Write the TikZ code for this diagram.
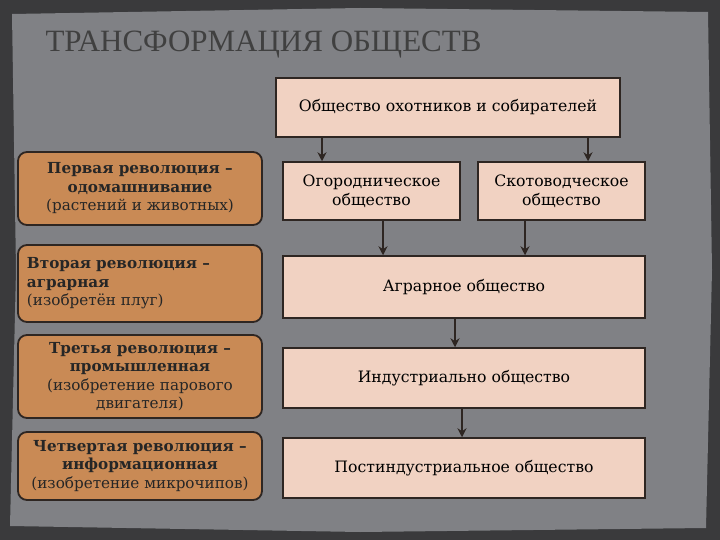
\documentclass[tikz,border=0pt]{standalone}
\usepackage{fontspec}
\usetikzlibrary{arrows.meta}
\setmainfont{DejaVu Serif}
\newfontfamily\titlefont{Liberation Serif}
\definecolor{bgdark}{HTML}{3A3A3C}
\definecolor{panel}{HTML}{808185}
\definecolor{pinkbox}{HTML}{F1D2C2}
\definecolor{brownbox}{HTML}{C98A55}
\definecolor{edge}{HTML}{2E2622}
\begin{document}
\begin{tikzpicture}[x=1pt,y=-1pt,
  rbox/.style={draw=edge,line width=1.5pt,fill=pinkbox,font=\fontsize{15.7}{19}\selectfont,align=center,inner sep=0pt},
  lbox/.style={draw=edge,line width=1.8pt,fill=brownbox,rounded corners=9pt,font=\fontsize{15.2}{18.5}\selectfont,align=center,inner sep=0pt,text=black!85},
  arr/.style={draw=edge,line width=1.5pt,-{Stealth[length=9pt,width=9pt]}}]
\useasboundingbox (0,0) rectangle (720,540);
\fill[bgdark] (0,0) rectangle (720,540);
\fill[panel] (12,14) -- (360,8) -- (708,12) -- (712,270) -- (706,528) -- (360,532) -- (10,526) -- (16,270) -- cycle;
\node[anchor=west,font=\titlefont\fontsize{31}{33}\selectfont,text=black!75] (title) at (42,45) {ТРАНСФОРМАЦИЯ ОБЩЕСТВ};
% right column
\node[rbox,minimum width=344pt,minimum height=59pt] (b1) at (448,107.5) {Общество охотников и собирателей};
\node[rbox,minimum width=177pt,minimum height=58pt] (b2) at (371.5,191) {Огородническое\\общество};
\node[rbox,minimum width=167pt,minimum height=58pt] (b3) at (561.5,191) {Скотоводческое\\общество};
\node[rbox,minimum width=362pt,minimum height=62pt] (b4) at (464,287) {Аграрное общество};
\node[rbox,minimum width=362pt,minimum height=60pt] (b5) at (464,378) {Индустриально общество};
\node[rbox,minimum width=362pt,minimum height=60pt] (b6) at (464,468) {Постиндустриальное общество};
% left column
\node[lbox,minimum width=244pt,minimum height=73pt] (l1) at (140,188.5) {\textbf{Первая революция –}\\\textbf{одомашнивание}\\(растений и животных)};
\node[lbox,minimum width=244pt,minimum height=77pt,align=left,text width=226pt] (l2) at (140,283.5) {\textbf{Вторая революция –}\\\textbf{аграрная}\\(изобретён плуг)};
\node[lbox,minimum width=244pt,minimum height=83pt] (l3) at (140,376.5) {\textbf{Третья революция –}\\\textbf{промышленная}\\(изобретение парового\\двигателя)};
\node[lbox,minimum width=244pt,minimum height=68pt] (l4) at (140,466) {\textbf{Четвертая революция –}\\\textbf{информационная}\\(изобретение микрочипов)};
% arrows
\draw[arr] (b1.south -| 322,0) -- (b2.north -| 322,0);
\draw[arr] (b1.south -| 588,0) -- (b3.north -| 588,0);
\draw[arr] (b2.south -| 383,0) -- (b4.north -| 383,0);
\draw[arr] (b3.south -| 525,0) -- (b4.north -| 525,0);
\draw[arr] (b4.south -| 455,0) -- (b5.north -| 455,0);
\draw[arr] (b5.south -| 462,0) -- (b6.north -| 462,0);
\end{tikzpicture}
\end{document}
